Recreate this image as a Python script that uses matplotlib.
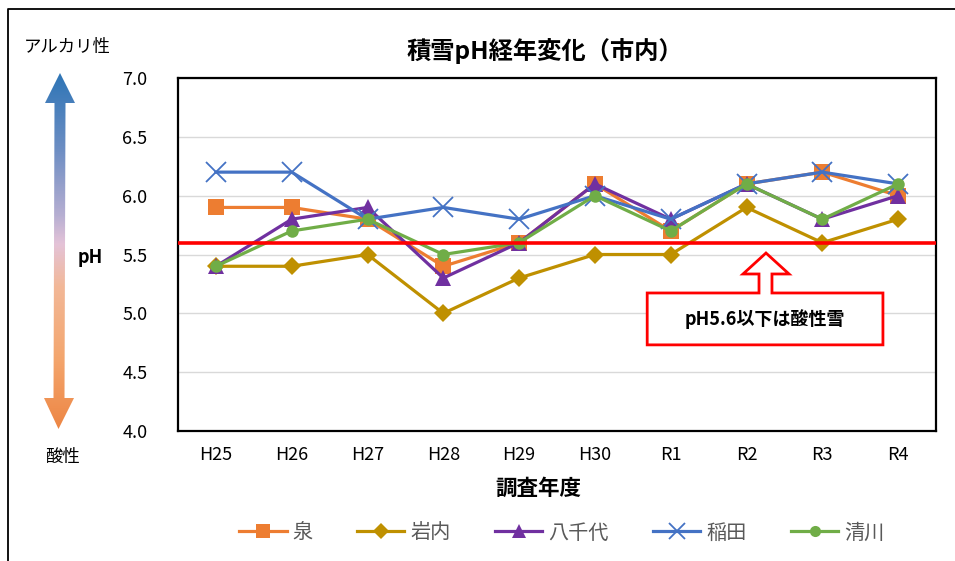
import numpy as np
import matplotlib
matplotlib.use("Agg")
import matplotlib.pyplot as plt
from matplotlib.path import Path
from matplotlib.patches import PathPatch, Polygon
from matplotlib.colors import LinearSegmentedColormap
from matplotlib.lines import Line2D

plt.rcParams["font.family"] = ["Noto Sans CJK JP", "DejaVu Sans"]

W, H = 955, 561

YEARS = ["H25", "H26", "H27", "H28", "H29", "H30", "R1", "R2", "R3", "R4"]

IZUMI = [5.9, 5.9, 5.8, 5.4, 5.6, 6.1, 5.7, 6.1, 6.2, 6.0]
IWANAI = [5.4, 5.4, 5.5, 5.0, 5.3, 5.5, 5.5, 5.9, 5.6, 5.8]
YACHIYO = [5.4, 5.8, 5.9, 5.3, 5.6, 6.1, 5.8, 6.1, 5.8, 6.0]
INADA = [6.2, 6.2, 5.8, 5.9, 5.8, 6.0, 5.8, 6.1, 6.2, 6.1]
KIYOKAWA = [5.4, 5.7, 5.8, 5.5, 5.6, 6.0, 5.7, 6.1, 5.8, 6.1]

ACID_LIMIT = 5.6
Y_TICKS = [4.0, 4.5, 5.0, 5.5, 6.0, 6.5, 7.0]

# name, values, colour, marker, marker size in plot, marker size in legend
SERIES = [
    ("泉", IZUMI, "#ED7D31", "s", 11, 9.5),
    ("岩内", IWANAI, "#BF9000", "D", 9, 8),
    ("八千代", YACHIYO, "#7030A0", "^", 11, 10),
    ("稲田", INADA, "#4472C4", "x", 15, 11),
    ("清川", KIYOKAWA, "#70AD47", "o", 9, 8),
]


def px_box(left, top, right, bottom):
    return [left / W, 1 - bottom / H, (right - left) / W, (bottom - top) / H]


fig = plt.figure(figsize=(W / 100, H / 100), dpi=100)

# overlay for frame, gradient arrow, side labels
ov = fig.add_axes([0, 0, 1, 1])
ov.set_xlim(0, W)
ov.set_ylim(H, 0)
ov.axis("off")
ov.plot([8, 8, W], [H, 9, 9], color="black", lw=1.3)

arrow_pts = [
    (60, 73), (75, 103), (65.5, 103), (64.5, 398), (74, 398), (58.5, 429),
    (44, 398), (53.5, 398), (54.5, 103), (45, 103),
]
cmap = LinearSegmentedColormap.from_list(
    "ph",
    [(0.0, "#2E75B6"), (0.22, "#6F8FC4"), (0.4, "#B7AFD2"), (0.48, "#E4C3D8"),
     (0.6, "#F2B898"), (0.8, "#F4A66E"), (1.0, "#ED8644")],
)
grad = np.linspace(0, 1, 256).reshape(-1, 1)
img = ov.imshow(grad, cmap=cmap, extent=(40, 80, 429, 73), aspect="auto", zorder=2)
clip = Polygon(arrow_pts, closed=True, transform=ov.transData, fc="none", ec="none")
ov.add_patch(clip)
img.set_clip_path(clip)
ov.set_xlim(0, W)
ov.set_ylim(H, 0)

ov.text(67, 47, "アルカリ性", ha="center", va="center", fontsize=12.5)
ov.text(62, 457, "酸性", ha="center", va="center", fontsize=12.5)
ov.text(90, 257, "pH", ha="center", va="center", fontsize=13, fontweight="bold")

ax = fig.add_axes(px_box(178, 78, 936, 431))
x = np.arange(len(YEARS))
for name, vals, color, marker, ms, _ in SERIES:
    ax.plot(x, vals, color=color, lw=2.3, marker=marker, ms=ms,
            mew=(1.3 if marker == "x" else 0), mfc=color, mec=color,
            label=name, zorder=3)

ax.axhline(ACID_LIMIT, color="#FF0000", lw=2.6, zorder=4)

ax.set_xlim(-0.5, len(YEARS) - 0.5)
ax.set_ylim(Y_TICKS[0], Y_TICKS[-1])
ax.set_yticks(Y_TICKS)
ax.set_yticklabels([f"{v:.1f}" for v in Y_TICKS])
ax.set_xticks(x)
ax.set_xticklabels(YEARS)
ax.tick_params(axis="y", length=0, pad=22, labelsize=13)
ax.tick_params(axis="x", length=0, pad=11, labelsize=13)
ax.grid(axis="y", color="#D9D9D9", lw=1)
ax.set_axisbelow(True)
for s in ax.spines.values():
    s.set_color("black")
    s.set_linewidth(1.6)

# callout box with up arrow
L, R, T, B = 0.619, 0.930, 0.391, 0.244
sl, sr, hb, hl, hr, tx, ty = 0.7665, 0.7836, 0.4448, 0.7454, 0.8061, 0.7757, 0.5042
verts = [(L, B), (R, B), (R, T), (sr, T), (sr, hb), (hr, hb), (tx, ty),
         (hl, hb), (sl, hb), (sl, T), (L, T), (L, B)]
codes = [Path.MOVETO] + [Path.LINETO] * (len(verts) - 2) + [Path.CLOSEPOLY]
ax.add_patch(PathPatch(Path(verts, codes), transform=ax.transAxes,
                       fc="white", ec="#FF0000", lw=2.0, zorder=5))
ax.text((L + R) / 2, (T + B) / 2, "pH5.6以下は酸性雪", transform=ax.transAxes,
        ha="center", va="center", fontsize=13, fontweight="bold", zorder=6)

fig.text(545 / W, 1 - 51 / H, "積雪pH経年変化（市内）", ha="center", va="center",
         fontsize=17.5, fontweight="bold")
fig.text(538 / W, 1 - 488 / H, "調査年度", ha="center", va="center",
         fontsize=15.5, fontweight="bold")

handles = [Line2D([], [], color=c, lw=2.3, marker=m, ms=lms,
                  mew=(1.3 if m == "x" else 0), mfc=c, mec=c)
           for _, _, c, m, _, lms in SERIES]
leg = fig.legend(handles, [s[0] for s in SERIES], loc="center",
                 bbox_to_anchor=(562 / W, 1 - 533 / H), ncol=5, frameon=False,
                 fontsize=14.5, handlelength=2.35, handletextpad=0.3,
                 columnspacing=2.2)
for t in leg.get_texts():
    t.set_color("#595959")

fig.savefig("out.png", dpi=100)
